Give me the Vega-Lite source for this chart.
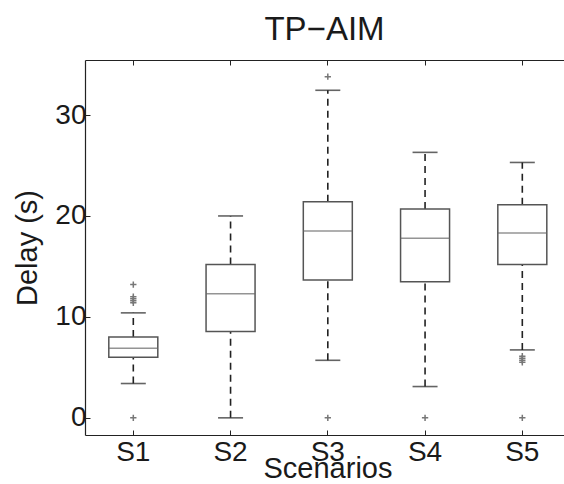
{
  "$schema": "https://vega.github.io/schema/vega-lite/v6.json",
  "width": 479,
  "height": 375,
  "autosize": "none",
  "padding": {"left": 85, "top": 60, "right": 0, "bottom": 49},
  "background": "white",
  "config": {
    "font": "Liberation Sans",
    "view": {"stroke": null},
    "axis": {"grid": false, "domainColor": "#222", "domainWidth": 1.2, "tickColor": "#222", "labelColor": "#1a1a1a", "titleColor": "#1a1a1a", "labelFont": "Liberation Sans", "titleFont": "Liberation Sans", "titleFontWeight": "normal"}
  },
  "title": {"text": "TP−AIM", "fontSize": 33, "fontWeight": "normal", "font": "Liberation Sans", "color": "#1a1a1a", "baseline": "alphabetic", "offset": -13},
  "datasets": {
    "stats": [
      {"scenario": "S1", "lower": 3.4, "q1": 6.0, "median": 6.9, "q3": 8.0, "upper": 10.4},
      {"scenario": "S2", "lower": 0.0, "q1": 8.55, "median": 12.3, "q3": 15.2, "upper": 20.0},
      {"scenario": "S3", "lower": 5.7, "q1": 13.66, "median": 18.5, "q3": 21.4, "upper": 32.45},
      {"scenario": "S4", "lower": 3.1, "q1": 13.47, "median": 17.8, "q3": 20.7, "upper": 26.3},
      {"scenario": "S5", "lower": 6.73, "q1": 15.2, "median": 18.3, "q3": 21.1, "upper": 25.3}
    ],
    "outliers": [
      {"scenario": "S1", "value": 13.2},
      {"scenario": "S1", "value": 12.0},
      {"scenario": "S1", "value": 11.8},
      {"scenario": "S1", "value": 11.6},
      {"scenario": "S1", "value": 11.4},
      {"scenario": "S1", "value": 0.0},
      {"scenario": "S3", "value": 33.8},
      {"scenario": "S3", "value": 0.0},
      {"scenario": "S4", "value": 0.0},
      {"scenario": "S5", "value": 6.1},
      {"scenario": "S5", "value": 5.9},
      {"scenario": "S5", "value": 5.7},
      {"scenario": "S5", "value": 5.5},
      {"scenario": "S5", "value": 0.0}
    ]
  },
  "layer": [
    {
      "data": {"name": "stats"},
      "mark": {"type": "rule", "color": "#222", "strokeWidth": 1.6, "strokeDash": [7, 5]},
      "encoding": {
        "x": {"field": "scenario", "type": "nominal", "sort": null,
          "scale": {"paddingInner": 0.5, "paddingOuter": 0.2127, "align": 0.58},
          "axis": {"orient": "bottom", "labelAngle": 0, "labelFontSize": 28, "tickSize": -5, "labelPadding": 8, "title": "Scenarios", "titleFontSize": 29, "titleX": 242.5, "titleY": 42, "titleBaseline": "alphabetic", "titleAnchor": null}},
        "y": {"field": "q3", "type": "quantitative",
          "scale": {"domain": [-1.7, 35.45], "nice": false, "zero": false},
          "axis": {"values": [0, 10, 20, 30], "labelFontSize": 28, "tickSize": -5, "labelPadding": 4, "title": "Delay (s)", "titleFontSize": 29, "titleX": -58, "titleY": 187.5, "titleAngle": -90, "titleBaseline": "middle", "titleAnchor": null}},
        "y2": {"field": "upper"}
      }
    },
    {
      "data": {"name": "stats"},
      "mark": {"type": "rule", "color": "#222", "strokeWidth": 1.6, "strokeDash": [7, 5]},
      "encoding": {
        "x": {"field": "scenario", "type": "nominal", "sort": null,
          "axis": {"orient": "top", "labels": false, "tickSize": -5, "title": null}},
        "y": {"field": "lower", "type": "quantitative"},
        "y2": {"field": "q1"}
      }
    },
    {
      "data": {"name": "stats"},
      "mark": {"type": "bar", "width": 49, "fill": "white", "stroke": "#555", "strokeWidth": 1.5},
      "encoding": {
        "x": {"field": "scenario", "type": "nominal", "sort": null, "axis": null},
        "y": {"field": "q1", "type": "quantitative"},
        "y2": {"field": "q3"}
      }
    },
    {
      "data": {"name": "stats"},
      "mark": {"type": "tick", "size": 49, "thickness": 1.5, "color": "#666"},
      "encoding": {
        "x": {"field": "scenario", "type": "nominal", "sort": null, "axis": null},
        "y": {"field": "median", "type": "quantitative"}
      }
    },
    {
      "data": {"name": "stats"},
      "mark": {"type": "tick", "size": 25, "thickness": 1.6, "color": "#222"},
      "encoding": {
        "x": {"field": "scenario", "type": "nominal", "sort": null, "axis": null},
        "y": {"field": "upper", "type": "quantitative"}
      }
    },
    {
      "data": {"name": "stats"},
      "mark": {"type": "tick", "size": 25, "thickness": 1.6, "color": "#222"},
      "encoding": {
        "x": {"field": "scenario", "type": "nominal", "sort": null, "axis": null},
        "y": {"field": "lower", "type": "quantitative"}
      }
    },
    {
      "data": {"name": "outliers"},
      "mark": {"type": "point", "shape": "M-1,0L1,0M0,-1L0,1", "size": 40, "filled": false, "stroke": "#777", "strokeWidth": 1.5, "opacity": 1},
      "encoding": {
        "x": {"field": "scenario", "type": "nominal", "sort": null, "axis": null},
        "y": {"field": "value", "type": "quantitative"}
      }
    }
  ],
  "resolve": {"axis": {"x": "independent"}}
}
